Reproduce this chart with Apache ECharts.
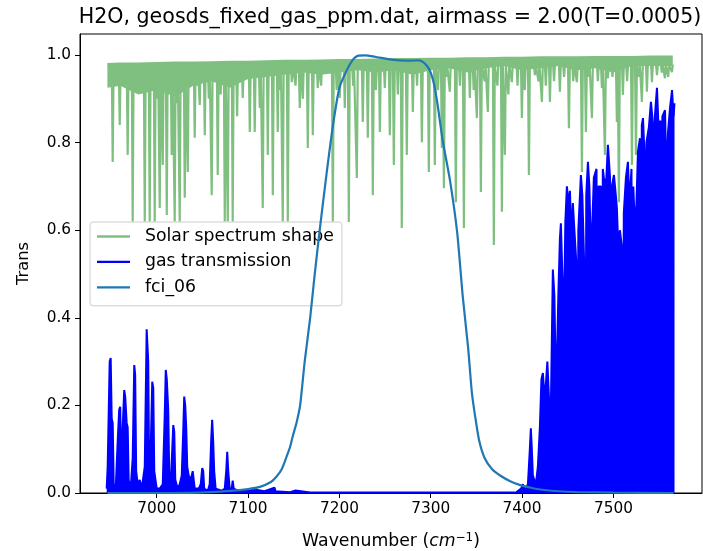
<!DOCTYPE html>
<html>
<head>
<meta charset="utf-8">
<script src="https://cdn.jsdelivr.net/npm/echarts@6/dist/echarts.min.js"></script>
<style>
html,body{margin:0;padding:0;background:#fff;}
#chart{width:703px;height:551px;}
</style>
</head>
<body>
<div id="chart"></div>
<script>
// ---------- DATA ----------
var titleText = 'H2O, geosds_fixed_gas_ppm.dat, airmass = 2.00(T=0.0005)';
var xTicks = [7000, 7100, 7200, 7300, 7400, 7500];
var yTicks = [0, 0.2, 0.4, 0.6, 0.8, 1.0];

// Solar spectrum: dense continuum band (top edge / lower edge of the solid band)
var bandWn  = [6946,6960,6980,7000,7020,7040,7060,7080,7100,7120,7140,7160,7180,7200,7220,7240,7260,7280,7300,7320,7340,7360,7380,7400,7420,7440,7460,7480,7500,7520,7540,7565];
var bandTop = [0.982,0.983,0.983,0.984,0.985,0.985,0.986,0.987,0.987,0.988,0.989,0.989,0.990,0.991,0.991,0.992,0.993,0.993,0.994,0.994,0.995,0.995,0.996,0.996,0.997,0.997,0.997,0.998,0.998,0.998,0.999,0.999];
var bandBot = [0.925,0.93,0.91,0.92,0.905,0.93,0.94,0.925,0.945,0.95,0.955,0.96,0.955,0.96,0.965,0.96,0.965,0.955,0.965,0.97,0.96,0.97,0.975,0.965,0.97,0.975,0.965,0.97,0.96,0.975,0.975,0.975];
// Solar absorption lines: position and depth
var solarLineWn = [6951.8,6959.5,6963,6968.2,6973.7,6978,6981.4,6986.9,6992.3,6997.8,7000.5,7003.3,7006.6,7011.0,7016.4,7019.7,7022,7025.2,7030.7,7034.0,7041.6,7044,7047.1,7052.6,7057,7060.2,7066.8,7070,7074.5,7077.8,7083.2,7088,7094.2,7101.9,7107.3,7112.8,7116.1,7121.6,7127.1,7132.5,7135,7138.0,7143.5,7147.9,7152,7156.6,7160,7165.4,7170.9,7176.3,7180,7184.0,7192.8,7197,7200.4,7205.9,7210.3,7215,7219.1,7225.6,7231.1,7236.6,7240,7244.3,7249.7,7255.2,7259.6,7264,7268.3,7273.8,7280.4,7285,7290.3,7297.9,7304.5,7308,7312.2,7314.4,7317,7320.9,7327.5,7332,7336.3,7342.8,7347,7350.5,7354.9,7359,7362.5,7369.1,7373,7377.9,7381.2,7385,7388.8,7395,7399.8,7403,7407.5,7414.0,7418,7421.7,7426,7430.5,7435,7441.4,7446,7451.3,7456,7460.0,7465.5,7469.9,7473,7476.5,7483,7487.4,7490.7,7494.0,7499,7503.8,7506.0,7510.4,7515,7520.3,7524.7,7528,7531.2,7536.7,7542.2,7547.7,7553,7556.4,7560,7564.1];
var solarLineDepth = [0.756,0.840,0.93,0.772,0.62,0.92,0.925,0.62,0.62,0.62,0.90,0.651,0.749,0.635,0.772,0.62,0.89,0.62,0.674,0.733,0.811,0.93,0.886,0.817,0.90,0.680,0.726,0.91,0.62,0.62,0.62,0.86,0.902,0.824,0.824,0.879,0.651,0.772,0.680,0.824,0.92,0.62,0.62,0.938,0.93,0.879,0.90,0.788,0.817,0.925,0.93,0.961,0.62,0.92,0.902,0.879,0.619,0.93,0.719,0.847,0.811,0.680,0.92,0.824,0.925,0.817,0.749,0.91,0.605,0.772,0.870,0.93,0.801,0.733,0.749,0.92,0.788,0.696,0.95,0.916,0.664,0.93,0.605,0.902,0.92,0.856,0.687,0.94,0.870,0.566,0.93,0.642,0.772,0.91,0.938,0.93,0.856,0.92,0.726,0.954,0.94,0.893,0.93,0.893,0.94,0.916,0.95,0.833,0.94,0.938,0.733,0.824,0.95,0.856,0.94,0.925,0.772,0.947,0.95,0.847,0.664,0.909,0.94,0.749,0.772,0.95,0.893,0.916,0.938,0.954,0.96,0.947,0.95,0.961];
var solarStartWn = 6946.3, solarEndWn = 7565.2, solarShoulder = 0.978;

// Gas transmission (wavenumber, transmission)
var gasWn = [6945.2,6946.3,6948.5,6949.6,6950.7,6951.8,6952.9,6955.1,6957.3,6958.9,6960.0,6961.1,6962.8,6964.4,6965.5,6967.1,6968.2,6969.3,6971.5,6973.7,6975.4,6976.4,6977.5,6979.2,6981.4,6983.6,6986.9,6989.0,6990.7,6991.8,6993.4,6995.1,6996.2,6997.3,7000,7003.3,7006.6,7008.8,7009.9,7011.0,7012.6,7013.7,7015.3,7017.0,7018.1,7019.2,7020.3,7023.0,7025.2,7027.4,7029.0,7030.1,7031.2,7032.3,7033.4,7035.0,7037.2,7039.4,7041.6,7046.0,7048.2,7049.8,7050.9,7052.0,7055.9,7058.0,7059.6,7060.7,7061.8,7062.9,7064.5,7071.2,7074.5,7076.1,7077.2,7078.3,7079.9,7082.1,7083.2,7084.3,7090.9,7107,7118,7129,7130,7146,7152,7168,7250,7390,7392,7394,7399,7401,7403,
  7406.4,7408.5,7409.6,7410.7,7411.8,7415.1,7417.3,7419.5,7421.2,7422.8,7424.5,7426.1,7427.7,7429.4,7431.0,7432.6,7433.7,7435.4,7437.0,7438.1,7439.7,7441.4,7442.5,7444.1,7445.8,7447.4,7449.1,7450.7,7452.4,7454.0,7455.6,7457.3,7459.6,7460.6,7461.6,7464.4,7466.0,7468.3,7469.3,7470.3,7472.1,7473.7,7475.4,7477.0,7478.6,7481.5,7482.5,7483.5,7486.4,7487.4,7488.4,7490.7,7492.3,7494.0,7496.3,7497.3,7498.3,7500.6,7502.2,7503.8,7505.5,7507.1,7509.4,7510.4,7511.4,7513.7,7515.9,7517.6,7519.8,7520.8,7521.8,7523.6,7525.2,7526.9,7529.1,7530.1,7531.1,7532.4,7534.1,7535.1,7536.1,7538.9,7541.1,7543.4,7544.4,7545.4,7547.7,7549.3,7551.6,7552.6,7553.6,7556.5,7558.1,7559.8,7562.0,7564.2,7565.8,7566.9];
var gasVal = [0.01,0.06,0.30,0.308,0.17,0.16,0.02,0.01,0.12,0.19,0.197,0.08,0.15,0.235,0.22,0.16,0.15,0.03,0.01,0.08,0.292,0.27,0.05,0.02,0.03,0.01,0.06,0.374,0.30,0.02,0.10,0.254,0.24,0.05,0.01,0.01,0.02,0.18,0.281,0.26,0.19,0.04,0.02,0.10,0.155,0.14,0.03,0.01,0.02,0.04,0.14,0.22,0.20,0.15,0.06,0.04,0.03,0.05,0.01,0.01,0.02,0.057,0.05,0.01,0.005,0.02,0.12,0.167,0.12,0.05,0.01,0.005,0.01,0.05,0.094,0.05,0.01,0.01,0.028,0.01,0.003,0.008,0.004,0.012,0.004,0.002,0.006,0.001,0.001,0.001,0.005,0.002,0.01,0.02,0.005,
  0.02,0.10,0.148,0.10,0.04,0.02,0.06,0.15,0.26,0.274,0.22,0.25,0.30,0.22,0.12,0.35,0.51,0.45,0.25,0.30,0.45,0.58,0.616,0.50,0.40,0.62,0.70,0.66,0.69,0.58,0.662,0.60,0.52,0.03,0.60,0.726,0.68,0.50,0.02,0.68,0.756,0.70,0.55,0.62,0.72,0.74,0.10,0.70,0.70,0.02,0.74,0.70,0.72,0.795,0.72,0.12,0.70,0.726,0.69,0.651,0.55,0.60,0.56,0.05,0.64,0.72,0.756,0.66,0.74,0.03,0.70,0.605,0.66,0.78,0.81,0.08,0.84,0.856,0.77,0.04,0.80,0.836,0.893,0.84,0.08,0.86,0.925,0.84,0.85,0.05,0.86,0.874,0.72,0.824,0.88,0.920,0.86,0.89];

// Filter response fci_06
var fciWn  = [6946,7000,7047,7080,7100,7113,7125,7131,7137,7142,7146,7149,7153,7157,7162,7168,7173,7179,7186,7193,7200,7208,7215,7220,7228,7239,7255,7266,7277,7286,7291,7296,7300,7304,7308,7313,7321,7329,7335,7341,7345,7349,7353,7359,7367,7376,7387,7398,7410,7420,7440,7460,7500,7566];
var fciVal = [0.000,0.000,0.001,0.005,0.009,0.014,0.025,0.037,0.055,0.082,0.105,0.13,0.16,0.2,0.3,0.4,0.5,0.61,0.73,0.84,0.925,0.965,0.99,0.998,0.999,0.996,0.99,0.988,0.987,0.988,0.985,0.975,0.96,0.93,0.88,0.806,0.715,0.594,0.45,0.33,0.23,0.17,0.12,0.08,0.055,0.04,0.027,0.018,0.012,0.008,0.004,0.002,0.001,0.000];

var seriesNames = ['Solar spectrum shape', 'gas transmission', 'fci_06'];

// ---------- BUILD ----------
var GREEN = '#7fbf7f', BLUE = '#0000ff', FCI = '#1f77b4';
var FONT = 'DejaVu Sans';

function zip(a, b) { var o = []; for (var i = 0; i < a.length; i++) o.push([a[i], b[i]]); return o; }

var lines = zip(solarLineWn, solarLineDepth).sort(function (p, q) { return p[0] - q[0]; });
var solarData = [[solarStartWn, solarShoulder]];
lines.forEach(function (l) {
  solarData.push([l[0] - 1.0, solarShoulder]);
  solarData.push([l[0], l[1]]);
  solarData.push([l[0] + 1.0, solarShoulder]);
});
solarData.push([solarEndWn, solarShoulder]);

var chart = echarts.init(document.getElementById('chart'), null, { renderer: 'canvas' });
chart.setOption({
  animation: false,
  backgroundColor: '#ffffff',
  textStyle: { fontFamily: FONT },
  title: {
    text: titleText,
    left: 385, top: 2, textAlign: 'center',
    textStyle: { fontFamily: FONT, fontSize: 20.6, fontWeight: 'normal', color: '#000' }
  },
  grid: { left: 80, right: 1, top: 34, bottom: 58, containLabel: false, outerBoundsMode: 'none',
    show: true, borderColor: '#000', borderWidth: 1, backgroundColor: 'transparent' },
  legend: {
    data: seriesNames,
    orient: 'vertical',
    left: 90, top: 222,
    padding: [6, 8, 10, 7],
    icon: 'rect',
    itemWidth: 33, itemHeight: 2.3, itemGap: 8.4,
    backgroundColor: 'rgba(255,255,255,0.8)',
    borderColor: '#cccccc', borderWidth: 1, borderRadius: 3,
    textStyle: { fontFamily: FONT, fontSize: 17.3, color: '#000', padding: [0, 0, 0, 10] }
  },
  xAxis: {
    type: 'value', min: 6916, max: 7597,
    name: '{n|Wavenumber (}{i|cm}{s|−1}{n|)}',
    nameLocation: 'middle', nameGap: 39,
    nameTextStyle: {
      rich: {
        n: { fontFamily: FONT, fontSize: 17.3, color: '#000' },
        i: { fontFamily: FONT, fontSize: 17.3, fontStyle: 'italic', color: '#000' },
        s: { fontFamily: FONT, fontSize: 12, color: '#000', verticalAlign: 'top', padding: [0, 0, 8, 0] }
      }
    },
    splitLine: { show: false },
    axisLine: { show: true, onZero: false, lineStyle: { color: '#000', width: 1 } },
    axisTick: { show: true, inside: false, length: 5, lineStyle: { color: '#000' }, customValues: xTicks },
    axisLabel: { customValues: xTicks, fontFamily: FONT, fontSize: 15.3, color: '#000', margin: 9,
      formatter: function (v) { return String(v); } }
  },
  yAxis: {
    type: 'value', min: 0, max: 1.048,
    name: 'Trans', nameLocation: 'middle', nameGap: 48, nameRotate: 90,
    nameTextStyle: { fontFamily: FONT, fontSize: 16.3, color: '#000' },
    splitLine: { show: false },
    axisLine: { show: true, lineStyle: { color: '#000', width: 1 } },
    axisTick: { show: true, inside: false, length: 5, lineStyle: { color: '#000' }, customValues: yTicks },
    axisLabel: { customValues: yTicks, fontFamily: FONT, fontSize: 15.3, color: '#000', margin: 9,
      formatter: function (v) { return v.toFixed(1); } }
  },
  series: [
    {
      type: 'custom', name: 'solar-band', silent: true, clip: true, z: 2,
      data: [[bandWn[0], bandTop[0]]],
      renderItem: function (params, api) {
        var pts = [];
        for (var i = 0; i < bandWn.length; i++) pts.push(api.coord([bandWn[i], bandTop[i]]));
        for (var j = bandWn.length - 1; j >= 0; j--) pts.push(api.coord([bandWn[j], bandBot[j]]));
        return { type: 'polygon', shape: { points: pts }, style: { fill: GREEN } };
      }
    },
    {
      type: 'line', name: seriesNames[0], data: solarData, z: 2,
      showSymbol: false, symbol: 'none', sampling: null,
      lineStyle: { color: GREEN, width: 2.2 }, itemStyle: { color: GREEN }
    },
    {
      type: 'line', name: seriesNames[1], data: zip(gasWn, gasVal), z: 3,
      showSymbol: false, symbol: 'none',
      lineStyle: { color: BLUE, width: 2 }, itemStyle: { color: BLUE },
      areaStyle: { color: BLUE, opacity: 1, origin: 'start' }
    },
    {
      type: 'line', name: seriesNames[2], data: zip(fciWn, fciVal), z: 4,
      showSymbol: false, symbol: 'none', smooth: 0.2,
      lineStyle: { color: FCI, width: 2.2 }, itemStyle: { color: FCI }
    }
  ]
});
</script>
</body>
</html>
